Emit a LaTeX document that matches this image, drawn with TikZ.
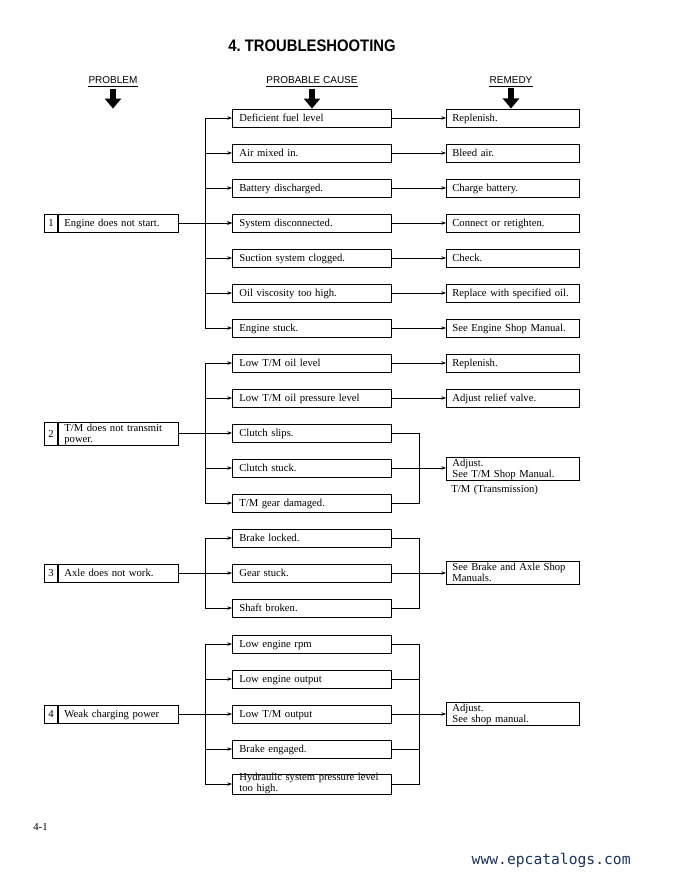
\documentclass[tikz,border=0pt]{standalone}
\usepackage{fontspec}
\setmainfont[WordSpace=1.3]{Liberation Serif}
\newfontfamily\headfont{Liberation Sans}
\newfontfamily\webfont{DejaVu Sans Mono}
\usetikzlibrary{positioning,arrows.meta,calc}
\definecolor{webblue}{HTML}{1C3260}

\begin{document}
\begin{tikzpicture}[
  x=0.75pt, y=-0.75pt,
  >={Stealth[length=3.5pt,width=2.6pt]},
  line width=0.55pt,
  every node/.style={font=\fontsize{8}{8.25}\selectfont},
  top strut/.store in=\boxtop, bottom strut/.store in=\boxbot,
  box/.style={draw, anchor=west, inner ysep=0pt, align=left,
    top strut=9.5pt, bottom strut=4pt,
    execute at begin node={\rule{0pt}{\boxtop}},
    execute at end node={\rule[-\boxbot]{0pt}{\boxbot}}},
  twoline/.style={top strut=6.6pt, bottom strut=2.4pt},
  cause/.style={box, inner xsep=5.25pt, text width=108.75pt},
  remedy/.style={box, inner xsep=4.5pt, text width=90.75pt},
  problem/.style={box, inner xsep=4.5pt, text width=81pt},
  num/.style={draw, anchor=east, minimum width=9.75pt, minimum height=13.5pt, inner sep=0pt},
  head/.style={inner sep=0pt, font=\headfont\fontsize{7.5}{9}\selectfont},
  bigarrow/.style={line width=4.5pt, -{Triangle[length=7.5pt,width=12pt]}}
]
  \path[fill=white, use as bounding box] (0,0) rectangle (682,877);

  % title and column heads
  \node[font=\headfont\bfseries\fontsize{12.5}{14}\selectfont] (title) at (312,46)
    {\scalebox{0.89}[1]{4.\ TROUBLESHOOTING}};
  \node[head] (hp) at (113,80) {PROBLEM};
  \node[head] (hc) at (312,80) {PROBABLE CAUSE};
  \node[head] (hr) at (511,80) {REMEDY};
  \foreach \h in {hp,hc,hr} {
    \draw[line width=0.6pt] ([yshift=-2pt]\h.south west) -- ([yshift=-2pt]\h.south east);
    \draw[bigarrow] ([yshift=-3.5pt]\h.south) -- ++(0,20);
  }

  % 1 engine
  \node[problem] (p1) at (58,223) {Engine does not start.};
  \node[num] (n1) at (p1.west) {1};
  \foreach \txt [count=\i] in {Deficient fuel level, Air mixed in., Battery discharged.,
      System disconnected., Suction system clogged., Oil viscosity too high., Engine stuck.}
    \node[cause] (a\i) at (232,{118+35*(\i-1)}) {\txt};
  \foreach \txt [count=\i] in {Replenish., Bleed air., Charge battery., Connect or retighten.,
      Check., Replace with specified oil., See Engine Shop Manual.}
    \node[remedy] (ra\i) at (446,{118+35*(\i-1)}) {\txt};
  \coordinate (ta) at ($(p1.east)!0.5!(a4.west)$);
  \draw (a1.west -| ta) -- (a7.west -| ta);
  \draw[->] (p1.east) -- (a4.west);
  \foreach \i in {1,...,7} {
    \draw[->] (a\i.west -| ta) -- (a\i.west);
    \draw[->] (a\i.east) -- (ra\i.west);
  }

  % 2 transmission
  \node[problem, twoline] (p2) at (58,434) {T/M does not transmit\\power.};
  \node[num, minimum height=17.25pt] (n2) at (p2.west) {2};
  \foreach \txt [count=\i] in {Low T/M oil level, Low T/M oil pressure level, Clutch slips.,
      Clutch stuck., T/M gear damaged.}
    \node[cause] (b\i) at (232,{363+35*(\i-1)}) {\txt};
  \node[remedy] (rb1) at (446,363) {Replenish.};
  \node[remedy] (rb2) at (446,398) {Adjust relief valve.};
  \node[remedy, twoline] (rb3) at (446,469) {Adjust.\\See T/M Shop Manual.};
  \node[anchor=west, inner sep=0pt] (tm) at (451,490) {T/M (Transmission)};
  \coordinate (tb) at ($(p2.east |- b3.west)!0.5!(b3.west)$);
  \coordinate (kb) at ($(b3.east)!0.5!(rb3.west |- b3.east)$);
  \draw (b1.west -| tb) -- (b5.west -| tb);
  \draw[->] (p2.east |- b3.west) -- (b3.west);
  \foreach \i in {1,2,4,5}
    \draw[->] (b\i.west -| tb) -- (b\i.west);
  \draw[->] (b1.east) -- (rb1.west);
  \draw[->] (b2.east) -- (rb2.west);
  \draw (b3.east) -| (kb |- b5.east) -- (b5.east);
  \draw[->] (b4.east) -- (b4.east -| rb3.west);

  % 3 axle
  \node[problem] (p3) at (58,573) {Axle does not work.};
  \node[num] (n3) at (p3.west) {3};
  \foreach \txt [count=\i] in {Brake locked., Gear stuck., Shaft broken.}
    \node[cause] (c\i) at (232,{538+35*(\i-1)}) {\txt};
  \node[remedy, twoline] (rc) at (446,573) {See Brake and Axle Shop\\Manuals.};
  \coordinate (tc) at ($(p3.east)!0.5!(c2.west)$);
  \coordinate (kc) at ($(c2.east)!0.5!(rc.west)$);
  \draw (c1.west -| tc) -- (c3.west -| tc);
  \draw[->] (p3.east) -- (c2.west);
  \foreach \i in {1,3}
    \draw[->] (c\i.west -| tc) -- (c\i.west);
  \draw (c1.east) -| (kc |- c3.east) -- (c3.east);
  \draw[->] (c2.east) -- (rc.west);

  % 4 charging
  \node[problem] (p4) at (58,714) {Weak charging power};
  \node[num] (n4) at (p4.west) {4};
  \foreach \txt [count=\i] in {Low engine rpm, Low engine output, Low T/M output, Brake engaged.}
    \node[cause] (d\i) at (232,{644+35*(\i-1)}) {\txt};
  \node[cause, top strut=4.5pt, bottom strut=2.25pt] (d5) at (232,784)
    {\smash{\mbox{Hydraulic system pressure level}}\\too high.};
  \node[remedy, twoline] (rd) at (446,714) {Adjust.\\See shop manual.};
  \coordinate (td) at ($(p4.east)!0.5!(d3.west)$);
  \coordinate (kd) at ($(d3.east)!0.5!(rd.west)$);
  \draw (d1.west -| td) -- (d5.west -| td);
  \draw[->] (p4.east) -- (d3.west);
  \foreach \i in {1,2,4,5}
    \draw[->] (d\i.west -| td) -- (d\i.west);
  \draw (d1.east) -| (kd |- d5.east) -- (d5.east);
  \draw (d2.east) -- (d2.east -| kd);
  \draw (d4.east) -- (d4.east -| kd);
  \draw[->] (d3.east) -- (rd.west);

  % page footer
  \node[anchor=west, inner sep=0pt] (pg) at (33,827) {4-1};
  \node[anchor=east, inner sep=0pt, text=webblue, font=\webfont\fontsize{11}{13}\selectfont]
    (web) at (631,860) {www.epcatalogs.com};
\end{tikzpicture}
\end{document}
